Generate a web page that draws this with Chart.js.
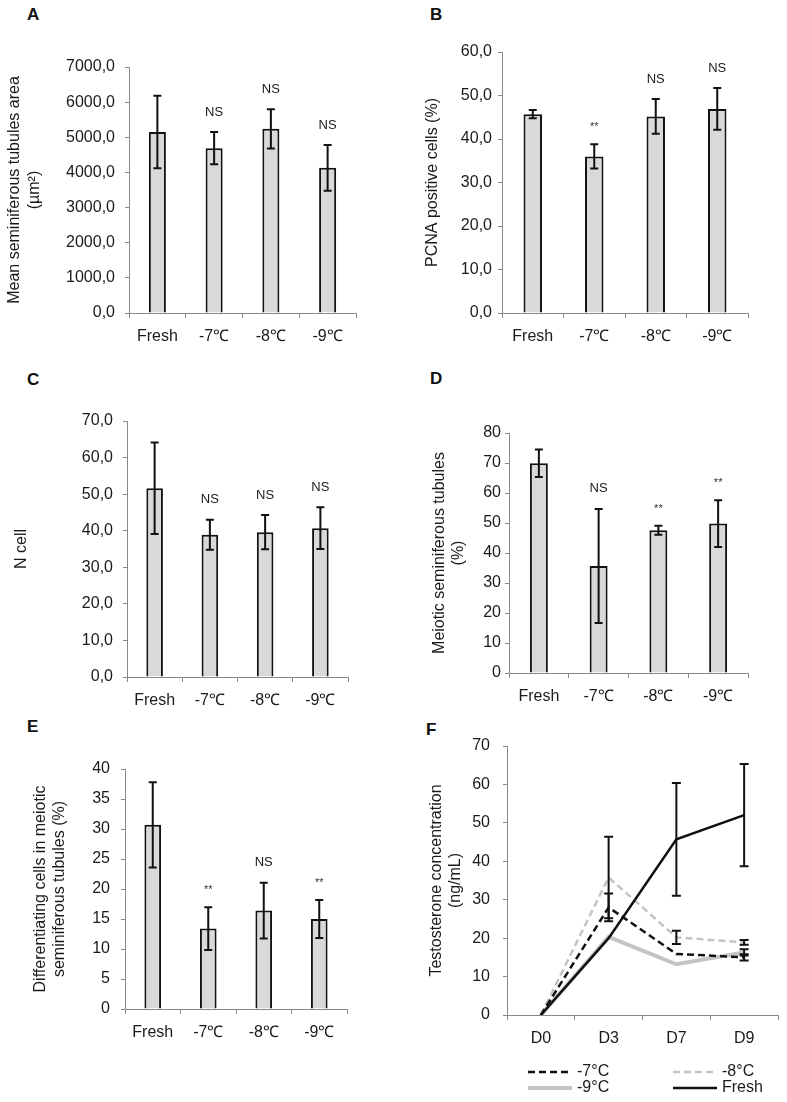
<!DOCTYPE html>
<html>
<head>
<meta charset="utf-8">
<script src="https://cdn.jsdelivr.net/npm/chart.js@4.4.1/dist/chart.umd.min.js"></script>
<style>
  body { margin: 0; background: #fff; width: 787px; height: 1102px; position: relative; overflow: hidden; }
  canvas { position: absolute; }
  .tag { position: absolute; font: bold 17px 'Liberation Sans', Arial, sans-serif; line-height: 20px; color: #111; }
</style>
</head>
<body>
<div class="tag" style="left:27px;top:5px">A</div>
<div class="tag" style="left:430px;top:5px">B</div>
<div class="tag" style="left:27px;top:370px">C</div>
<div class="tag" style="left:430px;top:369px">D</div>
<div class="tag" style="left:27px;top:717px">E</div>
<div class="tag" style="left:426px;top:720px">F</div>

<canvas id="chartA"></canvas>
<canvas id="chartB"></canvas>
<canvas id="chartC"></canvas>
<canvas id="chartD"></canvas>
<canvas id="chartE"></canvas>
<canvas id="chartF"></canvas>

<script>
// groups on the x axis of the bar panels
const groups = ['Fresh', '-7\u2103', '-8\u2103', '-9\u2103'];

// A - mean seminiferous tubules area
const areaMean = [5150, 4690, 5240, 4130];
const areaErr = [1030, 460, 560, 650];
const areaMarks = ['', 'NS', 'NS', 'NS'];

// B - PCNA positive cells
const pcnaMean = [45.7, 36.0, 45.2, 46.9];
const pcnaErr = [0.95, 2.8, 4.0, 4.8];
const pcnaMarks = ['', '**', 'NS', 'NS'];

// C - N cell
const nCellMean = [51.6, 38.9, 39.6, 40.7];
const nCellErr = [12.5, 4.1, 4.7, 5.7];
const nCellMarks = ['', 'NS', 'NS', 'NS'];

// D - meiotic seminiferous tubules
const meioticMean = [69.9, 35.7, 47.6, 49.8];
const meioticErr = [4.6, 19.0, 1.5, 7.8];
const meioticMarks = ['', 'NS', '**', '**'];

// E - differentiating cells
const diffMean = [30.7, 13.4, 16.4, 15.0];
const diffErr = [7.1, 3.55, 4.65, 3.15];
const diffMarks = ['', '**', 'NS', '**'];

// F - testosterone
const days = ['D0', 'D3', 'D7', 'D9'];
const testoM7 = [0, 28.0, 15.9, 15.0];
const testoM7Err = [0, 3.6, 0, 0.8];
const testoM8 = [0, 35.8, 20.2, 18.9];
const testoM8Err = [0, 10.6, 1.7, 0.6];
const testoM9 = [0, 20.3, 13.2, 16.3];
const testoM9Err = [0, 0, 0, 0.8];
const testoFresh = [0, 20.0, 45.7, 52.0];
const testoFreshErr = [0, 0, 14.7, 13.3];

const AXIS = '#8a8a8a';
const INK = '#1a1a1a';
const X_HEIGHT = 40;

Chart.defaults.font.family = "'Liberation Sans', Arial, sans-serif";
Chart.defaults.font.size = 16;
Chart.defaults.color = INK;

// error bars, drawn from dataset.errors
const errorBars = {
  id: 'errorBars',
  afterDatasetsDraw(chart) {
    const ctx = chart.ctx;
    const y = chart.scales.y;
    const cap = chart.config.type === 'line' ? 4.5 : 4;
    chart.data.datasets.forEach((ds, i) => {
      if (!ds.errors) return;
      chart.getDatasetMeta(i).data.forEach((el, j) => {
        const e = ds.errors[j];
        if (!e) return;
        const top = y.getPixelForValue(ds.data[j] + e);
        const bot = y.getPixelForValue(ds.data[j] - e);
        ctx.save();
        ctx.strokeStyle = '#111';
        ctx.lineWidth = 2;
        ctx.beginPath();
        ctx.moveTo(el.x, top); ctx.lineTo(el.x, bot);
        ctx.moveTo(el.x - cap, top); ctx.lineTo(el.x + cap, top);
        ctx.moveTo(el.x - cap, bot); ctx.lineTo(el.x + cap, bot);
        ctx.stroke();
        ctx.restore();
      });
    });
  }
};

// NS / ** above the error bars
const sigMarks = {
  id: 'sigMarks',
  afterDatasetsDraw(chart) {
    const ctx = chart.ctx;
    const y = chart.scales.y;
    chart.data.datasets.forEach((ds, i) => {
      if (!ds.marks) return;
      chart.getDatasetMeta(i).data.forEach((el, j) => {
        const m = ds.marks[j];
        if (!m) return;
        const top = y.getPixelForValue(ds.data[j] + (ds.errors ? ds.errors[j] : 0));
        ctx.save();
        ctx.fillStyle = m === 'NS' ? '#1a1a1a' : '#333';
        ctx.font = (m === 'NS' ? '13px' : '11px') + " 'Liberation Sans', Arial, sans-serif";
        ctx.textAlign = 'center';
        ctx.textBaseline = 'middle';
        ctx.fillText(m, el.x, top - (m === 'NS' ? 20 : 17));
        ctx.restore();
      });
    });
  }
};

// two column legend under panel F
const pairLegend = {
  id: 'pairLegend',
  afterDraw(chart, args, opts) {
    if (!opts || !opts.display) return;
    const ctx = chart.ctx;
    const a = chart.chartArea;
    chart.data.datasets.forEach((ds, i) => {
      const x = a.left + opts.cols[i % 2];
      const yy = a.bottom + opts.rows[Math.floor(i / 2)];
      ctx.save();
      ctx.strokeStyle = ds.borderColor;
      ctx.lineWidth = ds.borderWidth;
      ctx.setLineDash(ds.borderDash || []);
      ctx.beginPath();
      ctx.moveTo(x, yy); ctx.lineTo(x + opts.lineLen, yy);
      ctx.stroke();
      ctx.setLineDash([]);
      ctx.fillStyle = INK;
      ctx.font = "16px 'Liberation Sans', Arial, sans-serif";
      ctx.textBaseline = 'middle';
      ctx.fillText(ds.label, x + opts.lineLen + 5, yy);
      ctx.restore();
    });
  }
};

Chart.register(errorBars, sigMarks, pairLegend);

function place(id, box) {
  const c = document.getElementById(id);
  c.width = box.width; c.height = box.height;
  c.style.left = box.left + 'px'; c.style.top = box.top + 'px';
  c.style.width = box.width + 'px'; c.style.height = box.height + 'px';
  return c;
}

function panelOptions(box, plot, yTitle, titlePad, yMax, step, decimals, tickPad) {
  return {
    responsive: false,
    animation: false,
    layout: {
      padding: {
        left: 0,
        top: plot.top - box.top,
        right: box.left + box.width - plot.right,
        bottom: box.top + box.height - plot.bottom - X_HEIGHT
      }
    },
    plugins: { legend: { display: false }, tooltip: { enabled: false } },
    scales: {
      x: {
        offset: true,
        grid: { offset: true, drawOnChartArea: false, tickLength: 5, color: AXIS },
        border: { color: AXIS },
        ticks: { padding: 9 },
        afterFit: s => { s.height = X_HEIGHT; }
      },
      y: {
        min: 0, max: yMax,
        ticks: { stepSize: step, padding: tickPad, callback: v => v.toFixed(decimals).replace('.', ',') },
        grid: { drawOnChartArea: false, tickLength: 4, color: AXIS },
        border: { color: AXIS },
        title: { display: true, text: yTitle, padding: { top: titlePad, bottom: 0 }, font: { size: 16, lineHeight: 1.2 } },
        afterFit: s => { s.width = plot.left - box.left; }
      }
    }
  };
}

function barPanel(id, box, plot, yTitle, titlePad, yMax, step, decimals, tickPad, means, errs, marks) {
  new Chart(place(id, box), {
    type: 'bar',
    data: {
      labels: groups,
      datasets: [{
        data: means,
        errors: errs,
        marks: marks,
        backgroundColor: '#d9d9d9',
        borderColor: '#111',
        borderWidth: 2,
        barPercentage: 1,
        categoryPercentage: 0.3
      }]
    },
    options: panelOptions(box, plot, yTitle, titlePad, yMax, step, decimals, tickPad)
  });
}

barPanel('chartA', { left: 0, top: 0, width: 393, height: 360 }, { left: 129, top: 67, right: 356, bottom: 313 },
  ['Mean seminiferous tubules area', '(\u00b5m\u00b2)'], 5.4, 7000, 1000, 1, 10, areaMean, areaErr, areaMarks);
barPanel('chartB', { left: 393, top: 0, width: 394, height: 360 }, { left: 502, top: 52, right: 748, bottom: 313 },
  'PCNA positive cells (%)', 30.4, 60, 10, 1, 6, pcnaMean, pcnaErr, pcnaMarks);
barPanel('chartC', { left: 0, top: 360, width: 393, height: 360 }, { left: 127, top: 421, right: 348, bottom: 677 },
  'N cell', 12, 70, 10, 1, 10, nCellMean, nCellErr, nCellMarks);
barPanel('chartD', { left: 393, top: 360, width: 394, height: 360 }, { left: 509, top: 433, right: 748, bottom: 673 },
  ['Meiotic seminiferous tubules', '(%)'], 36.7, 80, 10, 0, 4, meioticMean, meioticErr, meioticMarks);
barPanel('chartE', { left: 0, top: 720, width: 393, height: 382 }, { left: 125, top: 769, right: 347, bottom: 1009 },
  ['Differentiating cells in meiotic', 'seminiferous tubules (%)'], 31, 40, 5, 0, 11, diffMean, diffErr, diffMarks);

// F - line chart
const boxF = { left: 393, top: 720, width: 394, height: 382 };
const plotF = { left: 507, top: 746, right: 778, bottom: 1015 };
const optsF = panelOptions(boxF, plotF, ['Testosterone concentration', '(ng/mL)'], 34, 70, 10, 0, 13);
optsF.plugins.pairLegend = { display: true, cols: [21, 166], rows: [57, 73], lineLen: 44 };

new Chart(place('chartF', boxF), {
  type: 'line',
  data: {
    labels: days,
    datasets: [
      { label: '-7\u00b0C', data: testoM7, errors: testoM7Err, borderColor: '#111', borderWidth: 2.5, borderDash: [7, 4], pointRadius: 0, order: 1 },
      { label: '-8\u00b0C', data: testoM8, errors: testoM8Err, borderColor: '#c4c4c4', borderWidth: 2.5, borderDash: [7, 4], pointRadius: 0, order: 2 },
      { label: '-9\u00b0C', data: testoM9, errors: testoM9Err, borderColor: '#c4c4c4', borderWidth: 4, pointRadius: 0, order: 3 },
      { label: 'Fresh', data: testoFresh, errors: testoFreshErr, borderColor: '#111', borderWidth: 2.5, pointRadius: 0, order: 0 }
    ]
  },
  options: optsF
});
</script>
</body>
</html>
